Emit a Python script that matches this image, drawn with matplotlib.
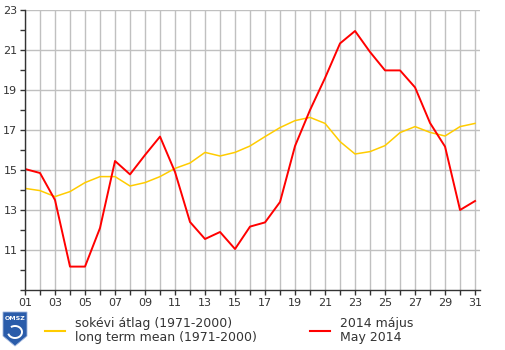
import matplotlib
matplotlib.use("Agg")
import matplotlib.pyplot as plt
import matplotlib.patches as patches
from matplotlib.ticker import MultipleLocator

# --- ADATOK ---
days = list(range(1, 32))
mean_1971_2000 = [14.08, 13.97, 13.67, 13.92, 14.37, 14.67, 14.67, 14.2, 14.37, 14.67,
                  15.08, 15.35, 15.88, 15.7, 15.88, 16.2, 16.67, 17.12, 17.47, 17.63,
                  17.33, 16.42, 15.8, 15.92, 16.22, 16.87, 17.17, 16.88, 16.7, 17.17,
                  17.33]
may_2014 = [15.05, 14.85, 13.5, 10.17, 10.17, 12.1, 15.45, 14.78, 15.75, 16.67,
            14.9, 12.4, 11.55, 11.9, 11.05, 12.17, 12.38, 13.4, 16.2, 18.0,
            19.6, 21.33, 21.95, 20.9, 19.98, 19.98, 19.13, 17.35, 16.17, 13.0,
            13.45]
x_labels = ["%02d" % d for d in days[::2]]
legend_mean = ["sokévi átlag (1971-2000)", "long term mean (1971-2000)"]
legend_2014 = ["2014 május", "May 2014"]

W, H = 505, 350
fig = plt.figure(figsize=(W / 100, H / 100), dpi=100)
ax = fig.add_axes([25 / W, 60 / H, 455 / W, 280 / H])

ax.plot(days, mean_1971_2000, color="#ffcc00", lw=1.1)
ax.plot(days, may_2014, color="#ff0000", lw=1.4)

ax.set_xlim(1, 31.33)
ax.set_ylim(9, 23)
ax.set_xticks(days[::2])
ax.set_xticklabels(x_labels)
ax.xaxis.set_minor_locator(MultipleLocator(1))
ax.set_yticks([11, 13, 15, 17, 19, 21, 23])
ax.yaxis.set_minor_locator(MultipleLocator(1))

# racs: minden napra fuggoleges, paratlan ertekekre vizszintes
ax.grid(True, which="major", axis="y", color="#c0c0c0", lw=1)
ax.grid(True, which="both", axis="x", color="#c0c0c0", lw=1)
ax.set_axisbelow(True)

for s in ("top", "right"):
    ax.spines[s].set_visible(False)
for s in ("left", "bottom"):
    ax.spines[s].set_color("#333333")
    ax.spines[s].set_linewidth(1)

ax.tick_params(which="both", length=3.5, width=1, color="#333333",
               labelsize=8, labelcolor="#333333", direction="out", pad=2)


def px(x, y):
    return x / W, 1 - y / H


# jelmagyarazat
fig.add_artist(plt.Line2D(*zip(px(45, 331), px(65, 331)), color="#ffcc00", lw=1.5))
fig.text(*px(75, 324), legend_mean[0], fontsize=9, color="#333333", va="center")
fig.text(*px(75, 338), legend_mean[1], fontsize=9, color="#333333", va="center")
fig.add_artist(plt.Line2D(*zip(px(310, 331), px(330, 331)), color="#ff0000", lw=1.5))
fig.text(*px(340, 324), legend_2014[0], fontsize=9, color="#333333", va="center")
fig.text(*px(340, 338), legend_2014[1], fontsize=9, color="#333333", va="center")

# OMSZ logo
verts = [px(3, 312), px(27, 312), px(27, 336), px(15, 346), px(3, 336)]
shield = patches.Polygon(verts, closed=True, transform=fig.transFigure,
                         facecolor="#2a5caa", edgecolor="#9fb5dd", lw=0.6)
fig.add_artist(shield)
fig.text(*px(15, 318), "OMSZ", fontsize=4.5, color="white",
         ha="center", va="center", fontweight="bold")
swirl = patches.Arc(px(15, 332), 14 / W, 12 / H, theta1=200, theta2=480,
                    transform=fig.transFigure, color="white", lw=1.4)
fig.add_artist(swirl)

fig.savefig("out.png", dpi=100)
